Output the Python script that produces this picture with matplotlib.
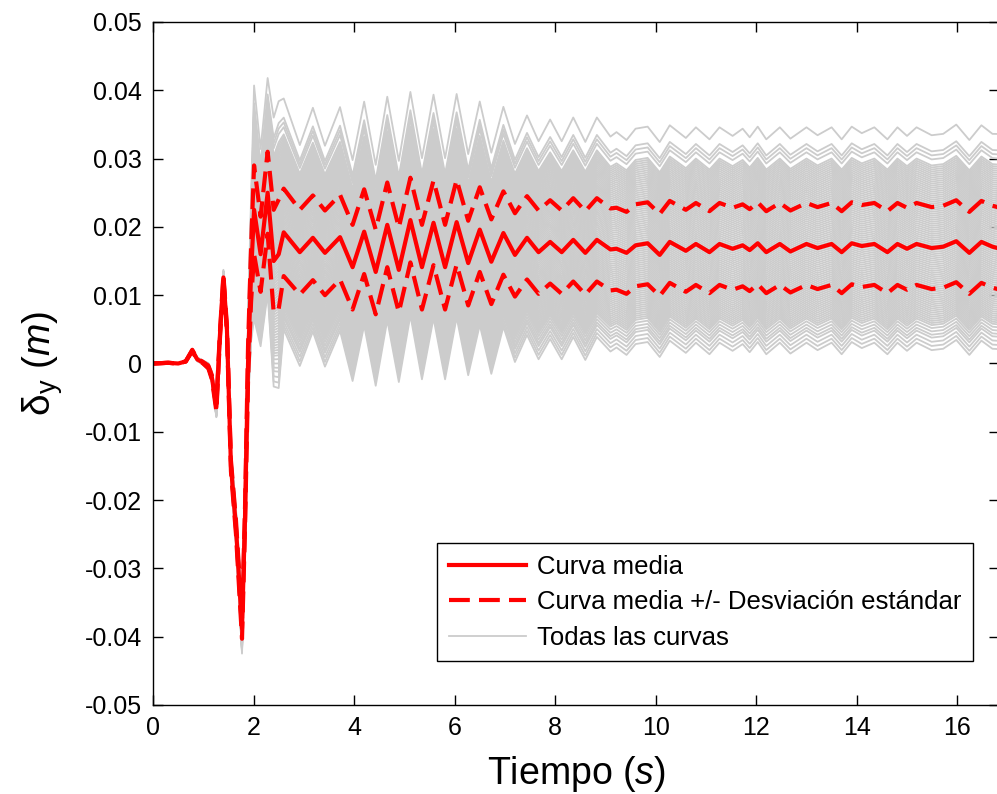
import numpy as np
import matplotlib.pyplot as plt

plt.rcParams['font.family'] = ['Liberation Sans', 'DejaVu Sans']
plt.rcParams['mathtext.fontset'] = 'custom'
plt.rcParams['mathtext.rm'] = 'Liberation Sans'
plt.rcParams['mathtext.it'] = 'Liberation Sans:italic'

# instantes (s) de los extremos de la curva media
t = [0.00, 0.30, 0.50, 0.65, 0.78, 0.88, 0.98, 1.10, 1.17, 1.26, 1.33, 1.40,
     1.47, 1.55, 1.65, 1.77, 1.83, 1.89, 1.95, 2.01, 2.14, 2.28, 2.40, 2.50,
     2.60, 2.92, 3.18, 3.42, 3.72, 3.97, 4.20, 4.43, 4.66, 4.89, 5.12, 5.35,
     5.58, 5.81, 6.04, 6.27, 6.50, 6.73, 6.97, 7.20, 7.44, 7.67, 7.90, 8.13,
     8.36, 8.60, 8.83, 9.10, 9.22, 9.42, 9.60, 9.84, 10.08, 10.28, 10.60, 10.80,
     11.07, 11.27, 11.53, 11.73, 11.87, 12.03, 12.20, 12.47, 12.68, 13.00, 13.22, 13.50,
     13.70, 13.90, 14.10, 14.35, 14.61, 14.81, 15.00, 15.19, 15.49, 15.72, 15.98, 16.24,
     16.48, 16.70, 16.85]

# curva media (m)
media = [0.0000, 0.0001, 0.0000, 0.0003, 0.0019, 0.0006, 0.0002, -0.0005, -0.0020, -0.0064, 0.0040, 0.0126,
         0.0050, -0.0150, -0.0240, -0.0388, -0.0225, 0.0000, 0.0130, 0.0225, 0.0160, 0.0250, 0.0150, 0.0160,
         0.0192, 0.0163, 0.0184, 0.0162, 0.0185, 0.0141, 0.0193, 0.0134, 0.0203, 0.0137, 0.0210, 0.0141,
         0.0206, 0.0141, 0.0207, 0.0147, 0.0196, 0.0149, 0.0191, 0.0159, 0.0184, 0.0163, 0.0178, 0.0163,
         0.0181, 0.0162, 0.0181, 0.0167, 0.0168, 0.0162, 0.0173, 0.0176, 0.0159, 0.0178, 0.0165, 0.0175,
         0.0163, 0.0175, 0.0168, 0.0173, 0.0166, 0.0176, 0.0163, 0.0175, 0.0164, 0.0175, 0.0169, 0.0175,
         0.0163, 0.0176, 0.0172, 0.0175, 0.0163, 0.0175, 0.0168, 0.0175, 0.0169, 0.0171, 0.0179, 0.0162,
         0.0178, 0.0171, 0.0168]

# desviacion estandar (m)
desv = [0.0000, 0.0000, 0.0000, 0.0000, 0.0001, 0.0001, 0.0001, 0.0002, 0.0003, 0.0006, 0.0005, 0.0004,
        0.0005, 0.0008, 0.0010, 0.0015, 0.0015, 0.0025, 0.0040, 0.0065, 0.0055, 0.0060, 0.0075, 0.0080,
        0.0064, 0.0062, 0.0062, 0.0062, 0.0062, 0.0062, 0.0062, 0.0062, 0.0062, 0.0062, 0.0062, 0.0062,
        0.0062, 0.0062, 0.0062, 0.0062, 0.0062, 0.0062, 0.0061, 0.0061, 0.0061, 0.0061, 0.0061, 0.0061,
        0.0061, 0.0061, 0.0061, 0.0060, 0.0060, 0.0060, 0.0060, 0.0060, 0.0060, 0.0060, 0.0060, 0.0060,
        0.0060, 0.0060, 0.0060, 0.0060, 0.0060, 0.0060, 0.0060, 0.0060, 0.0060, 0.0060, 0.0060, 0.0060,
        0.0060, 0.0060, 0.0060, 0.0060, 0.0060, 0.0060, 0.0060, 0.0060, 0.0060, 0.0060, 0.0060, 0.0060,
        0.0060, 0.0060, 0.0060]

# oscilacion extra de cada curva individual (m por unidad de desviacion)
oscil = [0.0, 0.0, 0.0, 0.0, 0.0, 0.0, 0.0, 0.0, 0.0, 0.0, 0.0, 0.0,
         0.0, 0.0, 0.0, 0.0, 0.0, 0.0, 0.0, 0.0, 0.0, 0.0, 0.0, 0.0,
         0.0006, 0.0006, 0.0006, 0.0006, 0.0006, 0.0006, 0.0006, 0.0006, 0.0005, 0.0005, 0.0005, 0.0005,
         0.0005, 0.0005, 0.0005, 0.0005, 0.0005, 0.0005, 0.0005, 0.0003, 0.0003, 0.0003, 0.0003, 0.0003,
         0.0003, 0.0003, 0.0003, 0.0001, 0.0001, 0.0001, 0.0001, 0.0001, 0.0001, 0.0001, 0.0001, 0.0001,
         0.0001, 0.0001, 0.0001, 0.0001, 0.0001, 0.0001, 0.0001, 0.0001, 0.0001, 0.0001, 0.0001, 0.0001,
         0.0001, 0.0001, 0.0001, 0.0001, 0.0001, 0.0001, 0.0001, 0.0001, 0.0001, 0.0001, 0.0001, 0.0001,
         0.0001, 0.0001, 0.0001]

# posicion de cada curva respecto a la media (en desviaciones)
z_curvas = [2.80, 2.40, 2.30, 2.20,
            2.05, 2.00, 1.95, 1.90, 1.85, 1.80, 1.75, 1.70, 1.65, 1.60, 1.55, 1.50,
            1.45, 1.40, 1.35, 1.30, 1.25, 1.20, 1.15, 1.10, 1.05, 1.00, 0.95, 0.90,
            0.85, 0.80, 0.75, 0.70, 0.65, 0.60, 0.55, 0.50, 0.45, 0.40, 0.35, 0.30,
            0.25, 0.20, 0.15, 0.10, 0.05, 0.00, -0.05, -0.10, -0.15, -0.20, -0.25,
            -0.30, -0.35, -0.40, -0.45, -0.50, -0.55, -0.60, -0.65, -0.70, -0.75,
            -0.80, -0.85, -0.90, -0.95, -1.00, -1.05, -1.10, -1.15, -1.20, -1.25,
            -1.30, -1.35, -1.40, -1.45, -1.50, -1.55, -1.60, -1.65, -1.70, -1.75,
            -1.80, -1.85,
            -1.92, -2.00, -2.08, -2.15, -2.25, -2.35, -2.45]

xticks = [0, 2, 4, 6, 8, 10, 12, 14, 16]
yticks = [-0.05, -0.04, -0.03, -0.02, -0.01, 0, 0.01, 0.02, 0.03, 0.04, 0.05]
ylabels = ['-0.05', '-0.04', '-0.03', '-0.02', '-0.01', '0',
           '0.01', '0.02', '0.03', '0.04', '0.05']

t = np.array(t)
media = np.array(media)
desv = np.array(desv)
oscil = np.array(oscil)

# picos (+1) y valles (-1) de la media
signo = np.zeros_like(media)
signo[1:-1] = np.sign(media[1:-1] - 0.5 * (media[:-2] + media[2:]))

fig = plt.figure(figsize=(9.97, 7.94), dpi=100)
ax = fig.add_axes([0.1535, 0.1121, 0.8485, 0.8602])

for z in z_curvas:
    gris, = ax.plot(t, media + z * desv + abs(z) * oscil * signo,
                    color='#cccccc', lw=1.3)

sup, = ax.plot(t, media + desv, color='#ff0000', lw=3.0, ls='--', dashes=(5, 2.2))
ax.plot(t, media - desv, color='#ff0000', lw=3.0, ls='--', dashes=(5, 2.2))
med, = ax.plot(t, media, color='#ff0000', lw=3.0)

ax.set_xlim(0, 16.83)
ax.set_ylim(-0.05, 0.05)
ax.set_xticks(xticks)
ax.set_xticklabels([str(v) for v in xticks])
ax.set_yticks(yticks)
ax.set_yticklabels(ylabels)
ax.tick_params(direction='in', length=7, width=1, top=True, right=True,
               labelsize=18, pad=8)
for s in ax.spines.values():
    s.set_linewidth(1.0)

ax.set_xlabel(r'Tiempo ($\mathit{s}$)', fontsize=27, labelpad=10)
ax.set_ylabel(r'$\mathrm{\delta_y}$ ($\mathit{m}$)', fontsize=28, labelpad=14)

leg = ax.legend([med, sup, gris],
                ['Curva media', 'Curva media +/- Desviación estándar', 'Todas las curvas'],
                loc='upper left', bbox_to_anchor=(0.3357, 0.2372), borderaxespad=0,
                fontsize=18.5, handlelength=3.0, handletextpad=0.45, labelspacing=0.45,
                borderpad=0.45, fancybox=False, framealpha=1, edgecolor='black')
leg.get_frame().set_linewidth(1.0)
for h in leg.get_lines()[2:]:
    h.set_linewidth(1.3)

fig.savefig('out.png', dpi=100)
